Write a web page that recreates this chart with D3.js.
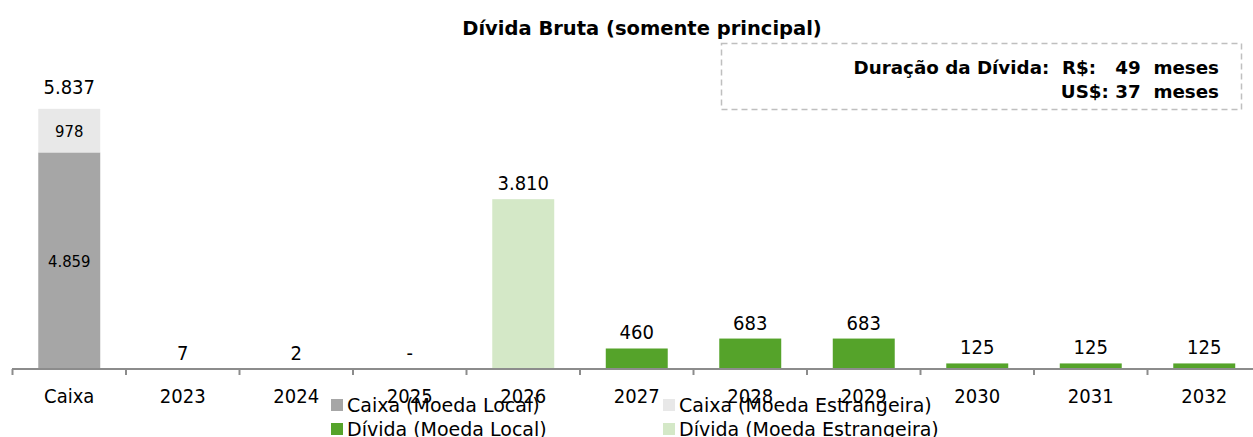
<!DOCTYPE html>
<html>
<head>
<meta charset="utf-8">
<script src="https://cdn.jsdelivr.net/npm/d3@7"></script>
<style>
  body { margin:0; background:#fff; }
  text { font-family:"DejaVu Sans Condensed","DejaVu Sans",sans-serif; fill:#000; white-space:pre; }
  text.wide { font-family:"DejaVu Sans",sans-serif; }
</style>
</head>
<body>
<script>
var categories = ['Caixa','2023','2024','2025','2026','2027','2028','2029','2030','2031','2032'];
var caixaLocal = [4859,0,0,0,0,0,0,0,0,0,0];
var caixaEstr  = [978,0,0,0,0,0,0,0,0,0,0];
var dividaLocal = [0,7,2,0,0,460,683,683,125,125,125];
var dividaEstr  = [0,0,0,0,3810,0,0,0,0,0,0];
var seriesNames = ['Caixa (Moeda Local)','Caixa (Moeda Estrangeira)','Dívida (Moeda Local)','Dívida (Moeda Estrangeira)'];
var seriesColors = ['#a6a6a6','#e8e8e8','#55a32a','#d4e8c7'];
var durationLines = ['Duração da Dívida:  R$:   49  meses','US$: 37  meses'];
var title = 'Dívida Bruta (somente principal)';

var W = 1253, H = 437;
var base = 369;

var pt = d3.formatLocale({decimal:",", thousands:".", grouping:[3], currency:["R$",""]});
var fmt = function(v){ return v === 0 ? '-' : pt.format(",.0f")(v); };

var rows = categories.map(function(c,i){
  return {cat:c, cl:caixaLocal[i], ce:caixaEstr[i], dl:dividaLocal[i], de:dividaEstr[i]};
});
var keys = ['cl','ce','dl','de'];
var stacked = d3.stack().keys(keys)(rows);

var x = d3.scaleBand()
  .domain(categories)
  .range([12.5, 1261])
  .paddingInner(0.454)
  .paddingOuter(0.227);

var y = d3.scaleLinear().domain([0,7000]).range([base, 57]);

var svg = d3.select("body").append("svg").attr("width",W).attr("height",H);

// title
svg.append("text")
  .attr("class","wide")
  .attr("x",642).attr("y",35)
  .attr("text-anchor","middle")
  .attr("font-size","19.5px")
  .attr("font-weight","bold")
  .text(title);

// duration box
svg.append("rect")
  .attr("x",721.5).attr("y",43.5)
  .attr("width",520).attr("height",66)
  .attr("fill","none")
  .attr("stroke","#bfbfbf")
  .attr("stroke-width",1.5)
  .attr("stroke-dasharray","6,4");

svg.selectAll("text.dur")
  .data(durationLines)
  .enter().append("text")
    .attr("class","dur wide")
    .attr("x",1219)
    .attr("y",function(d,i){ return 74+i*24; })
    .attr("text-anchor","end")
    .attr("font-size","18.3px")
    .attr("font-weight","bold")
    .text(function(d){ return d; });

// bars
svg.selectAll("g.layer")
  .data(stacked)
  .enter().append("g")
    .attr("class","layer")
    .attr("fill",function(d,i){ return seriesColors[i]; })
  .selectAll("rect")
  .data(function(d){ return d; })
  .enter().append("rect")
    .attr("x",function(d){ return x(d.data.cat); })
    .attr("width",x.bandwidth())
    .attr("y",function(d){ return y(d[1]); })
    .attr("height",function(d){ return y(d[0]) - y(d[1]); });

// axis line + ticks between categories
svg.append("line")
  .attr("x1",12).attr("x2",W)
  .attr("y1",base).attr("y2",base)
  .attr("stroke","#8c8c8c").attr("stroke-width",2);

var half = x.step()*x.paddingInner()/2;
svg.selectAll("line.tick")
  .data(categories)
  .enter().append("line")
    .attr("class","tick")
    .attr("x1",function(d){ return x(d) - half; })
    .attr("x2",function(d){ return x(d) - half; })
    .attr("y1",base).attr("y2",base+6)
    .attr("stroke","#8c8c8c").attr("stroke-width",2);

svg.selectAll("text.cat")
  .data(categories)
  .enter().append("text")
    .attr("class","cat")
    .attr("x",function(d){ return x(d) + x.bandwidth()/2; })
    .attr("y",base+34)
    .attr("text-anchor","middle")
    .attr("font-size","20px")
    .text(function(d){ return d; });

// value labels
svg.selectAll("text.val")
  .data(rows)
  .enter().append("text")
    .attr("class","val")
    .attr("x",function(d){ return x(d.cat) + x.bandwidth()/2; })
    .attr("y",function(d){
      var t = d.cl + d.ce + d.dl + d.de;
      return y(t) - (d.cat === 'Caixa' ? 15 : 9);
    })
    .attr("text-anchor","middle")
    .attr("font-size","20px")
    .text(function(d){ return fmt(d.cl + d.ce + d.dl + d.de); });

// inner labels for caixa
var inner = [
  {v:caixaLocal[0], y0:0, y1:caixaLocal[0]},
  {v:caixaEstr[0], y0:caixaLocal[0], y1:caixaLocal[0]+caixaEstr[0]}
];
svg.selectAll("text.inner")
  .data(inner)
  .enter().append("text")
    .attr("class","inner")
    .attr("x",x('Caixa') + x.bandwidth()/2)
    .attr("y",function(d){ return (y(d.y0)+y(d.y1))/2 + 6; })
    .attr("text-anchor","middle")
    .attr("font-size","16.5px")
    .text(function(d){ return fmt(d.v); });

// legend
var leg = svg.selectAll("g.leg")
  .data(seriesNames)
  .enter().append("g")
    .attr("class","leg")
    .attr("transform",function(d,i){
      return "translate(" + (i%2===0 ? 331 : 663) + "," + (i<2 ? 399 : 423) + ")";
    });
leg.append("rect")
  .attr("width",12).attr("height",12)
  .attr("fill",function(d,i){ return seriesColors[i]; });
leg.append("text")
  .attr("class","wide")
  .attr("x",16).attr("y",13)
  .attr("font-size","19px")
  .text(function(d){ return d; });
</script>
</body>
</html>
